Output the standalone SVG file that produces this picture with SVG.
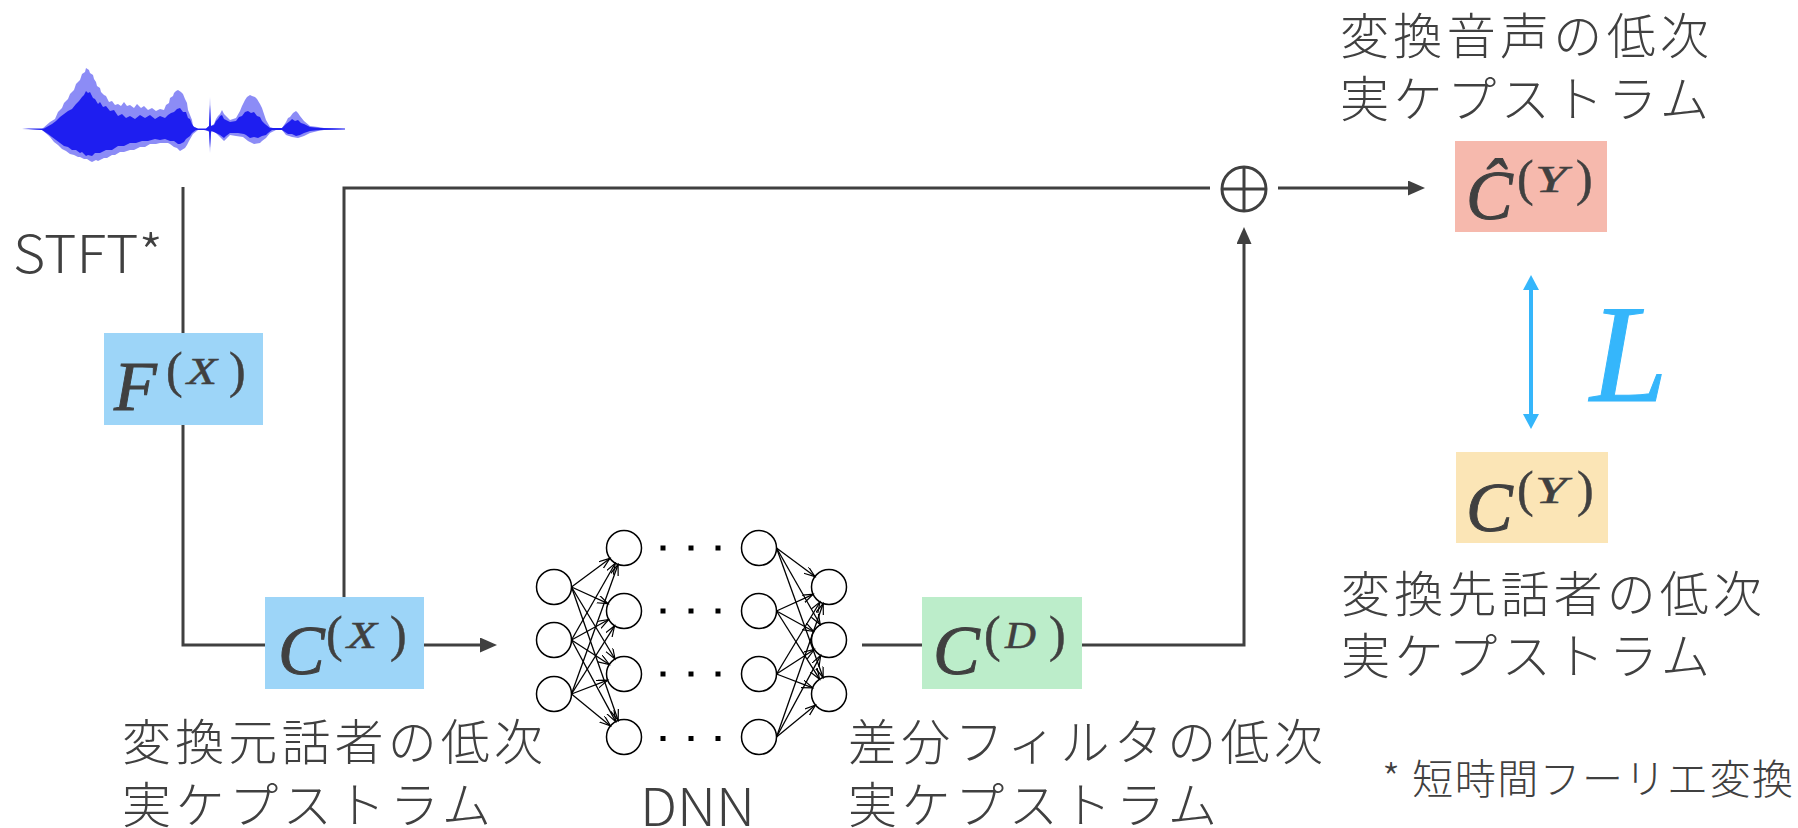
<svg xmlns="http://www.w3.org/2000/svg" width="1798" height="828" viewBox="0 0 1798 828">
  <style>
    .jp { font-family: 'Noto Sans CJK JP', 'Noto Sans CJK SC', sans-serif; font-weight: 300; fill: #404040; }
    .jp-l { font-size: 49px; }
    .lat { font-family: 'Noto Sans CJK JP', 'Liberation Sans', sans-serif; font-weight: 300; fill: #404040; font-size: 52px; }
    .m { font-family: 'Liberation Serif', 'DejaVu Serif', serif; font-style: italic; fill: #404040; stroke: #404040; stroke-width: 0.9; }
    .big { font-size: 70px; }
    .sup { font-size: 37px; stroke-width: 0.5; }
    .par { font-size: 50px; font-style: normal; stroke-width: 0.5; }
    .loss { font-size: 140px; fill: #35b6fb; stroke: #35b6fb; stroke-width: 1; }
    .wire { fill: none; stroke: #404040; stroke-width: 3; }
    .nn { fill: #fff; stroke: #000; stroke-width: 1.5; }
    .syn { stroke: #000; stroke-width: 1.3; marker-end: url(#vhead); }
  </style>
  <defs>
    <marker id="head" markerUnits="userSpaceOnUse" markerWidth="18" markerHeight="16" refX="9" refY="7.5" orient="auto">
      <path d="M0,0 L17,7.5 L0,15 Z" fill="#404040"/>
    </marker>
    <marker id="bhead" markerUnits="userSpaceOnUse" markerWidth="18" markerHeight="18" refX="8" refY="8" orient="auto-start-reverse">
      <path d="M0,0 L15,8 L0,16 Z" fill="#35b6fb"/>
    </marker>
    <marker id="vhead" markerUnits="userSpaceOnUse" markerWidth="14" markerHeight="10" refX="11" refY="4" orient="auto">
      <path d="M0,0 L11,4 L0,8" fill="none" stroke="#000" stroke-width="1.2"/>
    </marker>
  </defs>

  <rect width="1798" height="828" fill="#fff"/>

  <!-- speech waveform: light outer envelope, dense core -->
  <g id="waveform">
    <path fill="#8c8cf6" d="M22,129 L42,129 L50,122 L55,119 L58,112 L62,108 L64,103 L68,99 L70,94 L74,90 L76,84 L80,80 L82,74 L85,72 L86,68 L89,70 L90,73 L93,75 L94,79 L96,82 L97,86 L100,88 L101,92 L104,95 L106,96 L109,102 L112,101 L115,105 L118,104 L121,106 L124,102 L127,106 L130,105 L134,108 L137,104 L141,108 L144,106 L148,110 L152,108 L156,111 L160,109 L164,110 L166,105 L169,103 L170,98 L173,96 L174,93 L176,91 L178,90 L181,92 L183,94 L185,99 L187,103 L188,110 L190,115 L192,120 L193,126 L198,129 L206,129 L209,126 L210,97 L211,126 L214,124 L216,119 L218,116 L220,114 L222,110 L224,114 L226,116 L230,120 L236,118 L240,111 L242,106 L245,100 L247,97 L250,95 L252,96 L255,97 L257,99 L260,104 L262,108 L264,114 L266,120 L270,127 L276,129 L282,128 L286,122 L288,118 L290,117 L293,113 L296,111 L298,113 L300,116 L304,121 L310,126 L318,127 L324,128 L345,129 L324,130 L318,131 L310,133 L304,136 L298,138 L292,137 L286,135 L282,130 L276,130 L270,133 L266,138 L262,141 L260,143 L254,144 L248,141 L243,137 L236,136 L230,135 L224,141 L220,137 L216,133 L212,131 L211,133 L210,153 L209,132 L206,130 L198,130 L193,134 L189,141 L187,145 L185,148 L180,151 L177,148 L174,147 L170,144 L168,143 L160,143 L156,144 L150,144 L145,147 L140,147 L134,150 L130,150 L124,152 L120,152 L115,155 L112,155 L107,158 L104,158 L98,161 L96,160 L92,162 L90,161 L87,159 L84,159 L80,157 L78,157 L74,155 L70,154 L66,151 L62,149 L58,145 L54,142 L50,137 L48,135 L42,130 Z"/>
    <path fill="#1e1ef0" d="M22,128.5 L44,128.5 L52,124 L56,121 L60,117 L64,114 L68,111 L72,109 L76,104 L79,101 L82,97 L84,95 L86,91 L88,93 L90,92 L93,98 L95,99 L98,104 L100,102 L103,107 L106,106 L110,111 L114,110 L118,116 L122,114 L126,118 L130,116 L135,119 L140,115 L145,118 L150,115 L155,119 L160,116 L165,118 L168,115 L171,113 L174,112 L177,109 L180,108 L183,112 L186,112 L188,118 L190,119 L192,124 L194,127 L198,128.5 L206,128.5 L209,126 L210,105 L211,126 L214,125 L216,121 L218,119 L220,116 L222,115 L224,119 L226,120 L230,122 L236,121 L239,117 L242,116 L245,112 L248,111 L251,113 L254,112 L257,116 L260,117 L262,121 L265,124 L270,128 L282,128 L286,124 L290,121 L292,119 L295,121 L298,120 L301,123 L304,124 L310,127 L320,128 L345,128.5 L345,129.5 L320,130 L310,131 L304,133 L300,135 L296,136 L292,134 L288,134 L282,130 L272,130 L268,133 L266,135 L262,136 L258,138 L254,137 L250,138 L246,135 L244,134 L238,133 L230,133 L226,136 L224,138 L220,135 L218,134 L214,132 L211,131 L210,148 L209,131 L204,130 L196,130 L192,133 L190,136 L186,139 L184,142 L180,144 L178,144 L174,141 L170,141 L165,139 L160,140 L155,139 L148,141 L142,141 L136,143 L130,143 L124,146 L118,146 L112,150 L106,150 L100,153 L95,153 L92,156 L88,155 L86,156 L82,152 L80,153 L76,150 L72,150 L68,147 L64,146 L60,143 L56,140 L52,137 L48,134 L42,130 Z"/>
  </g>

  <!-- signal-flow wiring -->
  <g id="connectors">
    <path class="wire" d="M183,187 V333"/>
    <path class="wire" d="M183,425 V645 H265"/>
    <path class="wire" d="M424,645 H489" marker-end="url(#head)"/>
    <path class="wire" d="M344,597 V188 H1210"/>
    <path class="wire" d="M1278,188 H1417" marker-end="url(#head)"/>
    <path class="wire" d="M862,645 H922"/>
    <path class="wire" d="M1082,645 H1244 V235" marker-end="url(#head)"/>
    <path d="M1531,282 V422" stroke="#35b6fb" stroke-width="4" fill="none" marker-start="url(#bhead)" marker-end="url(#bhead)"/>
  </g>

  <g id="stft-label">
    <text class="lat" x="13" y="273" textLength="150" lengthAdjust="spacingAndGlyphs">STFT*</text>
  </g>

  <g id="node-FX">
    <rect x="104" y="333" width="159" height="92" fill="#9dd5f8"/>
    <text class="m big" x="114" y="410">F</text>
    <text class="m par" x="166" y="387">(</text>
    <text class="m sup" x="187" y="384" textLength="30" lengthAdjust="spacingAndGlyphs">X</text>
    <text class="m par" x="229" y="387">)</text>
  </g>

  <g id="node-CX">
    <rect x="265" y="597" width="159" height="92" fill="#9dd5f8"/>
    <text class="m big" x="278" y="674">C</text>
    <text class="m par" x="326" y="651">(</text>
    <text class="m sup" x="347" y="648" textLength="30" lengthAdjust="spacingAndGlyphs">X</text>
    <text class="m par" x="390" y="651">)</text>
    <text class="jp jp-l"><tspan x="122" y="760" textLength="421" lengthAdjust="spacing">変換元話者の低次</tspan><tspan x="122" y="823" textLength="369" lengthAdjust="spacing">実ケプストラム</tspan></text>
  </g>

  <g id="dnn">
    <g class="nn">
      <circle cx="554" cy="587" r="17.5"/>
      <circle cx="554" cy="640" r="17.5"/>
      <circle cx="554" cy="694" r="17.5"/>
      <circle cx="624" cy="548" r="17.5"/>
      <circle cx="624" cy="611" r="17.5"/>
      <circle cx="624" cy="674" r="17.5"/>
      <circle cx="624" cy="737" r="17.5"/>
      <circle cx="759" cy="548" r="17.5"/>
      <circle cx="759" cy="611" r="17.5"/>
      <circle cx="759" cy="674" r="17.5"/>
      <circle cx="759" cy="737" r="17.5"/>
      <circle cx="829" cy="587" r="17.5"/>
      <circle cx="829" cy="640" r="17.5"/>
      <circle cx="829" cy="694" r="17.5"/>
    </g>
    <g fill="#000">
      <rect x="660.5" y="545.5" width="5" height="5"/>
      <rect x="688.5" y="545.5" width="5" height="5"/>
      <rect x="715.5" y="545.5" width="5" height="5"/>
      <rect x="660.5" y="608.5" width="5" height="5"/>
      <rect x="688.5" y="608.5" width="5" height="5"/>
      <rect x="715.5" y="608.5" width="5" height="5"/>
      <rect x="660.5" y="671.5" width="5" height="5"/>
      <rect x="688.5" y="671.5" width="5" height="5"/>
      <rect x="715.5" y="671.5" width="5" height="5"/>
      <rect x="660.5" y="736" width="5" height="5"/>
      <rect x="688.5" y="736" width="5" height="5"/>
      <rect x="715.5" y="736" width="5" height="5"/>
    </g>
    <g>
      <line class="syn" x1="571.5" y1="587" x2="609.9" y2="558.4"/>
      <line class="syn" x1="571.5" y1="587" x2="608.1" y2="603.7"/>
      <line class="syn" x1="571.5" y1="587" x2="615.0" y2="659.0"/>
      <line class="syn" x1="571.5" y1="587" x2="618.2" y2="720.5"/>
      <line class="syn" x1="571.5" y1="640" x2="615.3" y2="563.2"/>
      <line class="syn" x1="571.5" y1="640" x2="608.7" y2="619.5"/>
      <line class="syn" x1="571.5" y1="640" x2="609.3" y2="664.5"/>
      <line class="syn" x1="571.5" y1="640" x2="615.7" y2="721.6"/>
      <line class="syn" x1="571.5" y1="694" x2="618.1" y2="564.5"/>
      <line class="syn" x1="571.5" y1="694" x2="614.6" y2="625.8"/>
      <line class="syn" x1="571.5" y1="694" x2="607.7" y2="680.2"/>
      <line class="syn" x1="571.5" y1="694" x2="610.5" y2="725.9"/>
      <line class="syn" x1="776.5" y1="548" x2="815.0" y2="576.6"/>
      <line class="syn" x1="776.5" y1="548" x2="820.3" y2="624.8"/>
      <line class="syn" x1="776.5" y1="548" x2="823.1" y2="677.5"/>
      <line class="syn" x1="776.5" y1="611" x2="813.1" y2="594.3"/>
      <line class="syn" x1="776.5" y1="611" x2="813.7" y2="631.5"/>
      <line class="syn" x1="776.5" y1="611" x2="819.6" y2="679.2"/>
      <line class="syn" x1="776.5" y1="674" x2="820.0" y2="602.0"/>
      <line class="syn" x1="776.5" y1="674" x2="814.3" y2="649.5"/>
      <line class="syn" x1="776.5" y1="674" x2="812.7" y2="687.8"/>
      <line class="syn" x1="776.5" y1="737" x2="823.2" y2="603.5"/>
      <line class="syn" x1="776.5" y1="737" x2="820.7" y2="655.4"/>
      <line class="syn" x1="776.5" y1="737" x2="815.5" y2="705.1"/>
    </g>
    <text class="lat" x="640" y="826" textLength="115" lengthAdjust="spacingAndGlyphs">DNN</text>
  </g>

  <g id="node-CD">
    <rect x="922" y="597" width="160" height="92" fill="#bcedca"/>
    <text class="m big" x="933" y="674">C</text>
    <text class="m par" x="984" y="651">(</text>
    <text class="m sup" x="1005" y="648" textLength="31" lengthAdjust="spacingAndGlyphs">D</text>
    <text class="m par" x="1049" y="651">)</text>
    <text class="jp jp-l"><tspan x="848" y="760" textLength="475" lengthAdjust="spacing">差分フィルタの低次</tspan><tspan x="848" y="823" textLength="369" lengthAdjust="spacing">実ケプストラム</tspan></text>
  </g>

  <g id="sum">
    <circle cx="1244" cy="189" r="22" fill="none" stroke="#404040" stroke-width="3"/>
    <path d="M1222,189 H1266 M1244,167 V211" stroke="#404040" stroke-width="3"/>
  </g>

  <g id="node-CYhat">
    <rect x="1455" y="141" width="152" height="91" fill="#f6b9ad"/>
    <text class="m big" x="1466" y="219">Ĉ</text>
    <text class="m par" x="1517" y="195">(</text>
    <text class="m sup" x="1535" y="192" textLength="32" lengthAdjust="spacingAndGlyphs">Y</text>
    <text class="m par" x="1576" y="195">)</text>
    <text class="jp jp-l"><tspan x="1340" y="54" textLength="369" lengthAdjust="spacing">変換音声の低次</tspan><tspan x="1340" y="117" textLength="369" lengthAdjust="spacing">実ケプストラム</tspan></text>
  </g>

  <g id="loss">
    <text class="m loss" x="1590" y="401">L</text>
  </g>

  <g id="node-CY">
    <rect x="1456" y="452" width="152" height="91" fill="#fbe5b6"/>
    <text class="m big" x="1466" y="531">C</text>
    <text class="m par" x="1517" y="506">(</text>
    <text class="m sup" x="1535" y="503" textLength="32" lengthAdjust="spacingAndGlyphs">Y</text>
    <text class="m par" x="1577" y="506">)</text>
    <text class="jp jp-l"><tspan x="1341" y="612" textLength="421" lengthAdjust="spacing">変換先話者の低次</tspan><tspan x="1341" y="674" textLength="369" lengthAdjust="spacing">実ケプストラム</tspan></text>
  </g>

  <g id="footnote">
    <text class="jp" x="1382" y="794" font-size="41" textLength="411" lengthAdjust="spacing">* 短時間フーリエ変換</text>
  </g>
</svg>
